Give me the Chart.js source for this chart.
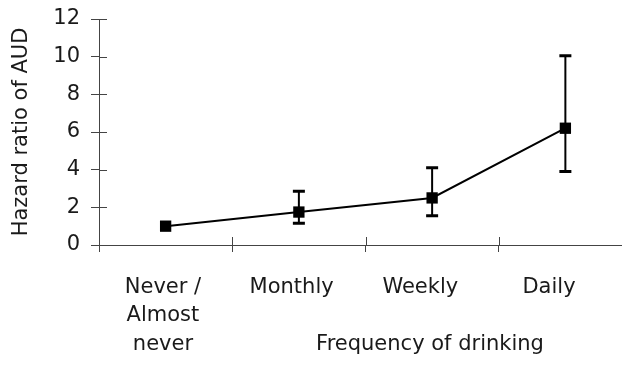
<!DOCTYPE html>
<html>
<head>
<meta charset="utf-8">
<script src="https://cdn.jsdelivr.net/npm/chart.js@4"></script>
<style>
html,body{margin:0;padding:0;background:#fff;overflow:hidden;}
#wrap{position:relative;width:622px;height:373px;overflow:hidden;}
#c{position:absolute;left:0;top:0;}
</style>
</head>
<body>
<div id="wrap"><canvas id="c" width="640" height="373"></canvas></div>
<script>
// Data
const categories = ["Never / Almost never", "Monthly", "Weekly", "Daily"];
const categoryLabelLines = [["Never /", "Almost", "never"], ["Monthly"], ["Weekly"], ["Daily"]];
const hazardRatio = [1.0, 1.75, 2.5, 6.2];
const ciLower = [null, 1.15, 1.55, 3.9];
const ciUpper = [null, 2.85, 4.1, 10.05];
const yTicks = [0, 2, 4, 6, 8, 10, 12];
const yTitle = "Hazard ratio of AUD";
const xTitle = "Frequency of drinking";

const FONT = "DejaVu Sans";
const FS = 21;
const TXT = "#1a1a1a";
const AXIS = "#444";

const crossTicks = {
  id: 'crossTicks',
  afterDraw(chart) {
    const ctx = chart.ctx;
    const x = chart.scales.x, y = chart.scales.y;
    ctx.save();
    ctx.strokeStyle = AXIS;
    ctx.lineWidth = 1;
    ctx.beginPath();
    y.ticks.forEach((t, i) => {
      const py = Math.round(y.getPixelForTick(i)) + 0.5;
      ctx.moveTo(y.right, py);
      ctx.lineTo(y.right + 8, py);
    });
    for (let i = 0; i <= categories.length; i++) {
      const px = Math.round(x.left + (x.right - x.left) * i / categories.length) + 0.5;
      ctx.moveTo(px, x.top);
      ctx.lineTo(px, x.top - 8);
    }
    ctx.stroke();
    ctx.restore();
  }
};

const errorBars = {
  id: 'errorBars',
  beforeDatasetsDraw(chart) {
    const ctx = chart.ctx;
    const x = chart.scales.x, y = chart.scales.y;
    ctx.save();
    ctx.strokeStyle = '#000';
    for (let i = 0; i < categories.length; i++) {
      if (ciLower[i] == null) continue;
      const px = x.getPixelForValue(i);
      const pl = y.getPixelForValue(ciLower[i]);
      const pu = y.getPixelForValue(ciUpper[i]);
      ctx.lineWidth = 2;
      ctx.beginPath();
      ctx.moveTo(px, pl); ctx.lineTo(px, pu);
      ctx.stroke();
      ctx.lineWidth = 3;
      ctx.beginPath();
      ctx.moveTo(px - 6, pl); ctx.lineTo(px + 6, pl);
      ctx.moveTo(px - 6, pu); ctx.lineTo(px + 6, pu);
      ctx.stroke();
    }
    ctx.restore();
  }
};

const xTitlePlugin = {
  id: 'xTitlePlugin',
  afterDraw(chart) {
    const ctx = chart.ctx;
    ctx.save();
    ctx.font = FS + "px '" + FONT + "'";
    ctx.fillStyle = TXT;
    ctx.textAlign = 'center';
    ctx.textBaseline = 'middle';
    ctx.fillText(xTitle, 430, 345);
    ctx.restore();
  }
};

new Chart(document.getElementById('c'), {
  type: 'line',
  data: {
    labels: categories,
    datasets: [{
      data: hazardRatio,
      borderColor: '#000',
      borderWidth: 2,
      backgroundColor: '#000',
      pointStyle: 'rect',
      pointRadius: 8,
      pointHoverRadius: 8,
      pointBackgroundColor: '#000',
      pointBorderWidth: 0,
      tension: 0
    }]
  },
  options: {
    responsive: false,
    animation: false,
    events: [],
    layout: { padding: { top: 19, right: 8, bottom: 0, left: 0 } },
    plugins: { legend: { display: false }, tooltip: { enabled: false } },
    scales: {
      x: {
        type: 'category',
        offset: true,
        position: 'bottom',
        afterFit: (axis) => { axis.height = 7; axis.paddingLeft = 0; axis.paddingRight = 0; },
        grid: { display: true, drawOnChartArea: false, offset: true, tickLength: 7, color: AXIS, tickColor: AXIS },
        border: { display: true, color: AXIS, width: 1 },
        ticks: { display: false }
      },
      x2: {
        type: 'linear',
        position: 'bottom',
        min: -0.497,
        max: 3.645,
        afterFit: (axis) => { axis.height = 121; axis.paddingLeft = 0; axis.paddingRight = 0; },
        grid: { display: false, drawTicks: false },
        border: { display: false },
        afterBuildTicks: (axis) => { axis.ticks = categories.map((c, i) => ({ value: i })); },
        ticks: {
          autoSkip: false,
          maxRotation: 0,
          padding: 21,
          color: TXT,
          font: { family: FONT, size: FS, lineHeight: 1.36 },
          callback: (v) => categoryLabelLines[v]
        }
      },
      y: {
        min: 0,
        max: 12,
        afterBuildTicks: (axis) => { axis.ticks = yTicks.map(v => ({ value: v })); },
        afterFit: (axis) => { axis.width = 99; axis.paddingTop = 0; axis.paddingBottom = 0; },
        grid: { display: true, drawOnChartArea: false, tickLength: 8, color: AXIS, tickColor: AXIS },
        border: { display: true, color: AXIS, width: 1 },
        ticks: { padding: 11, color: TXT, font: { family: FONT, size: FS } },
        title: { display: true, text: yTitle, color: TXT, font: { family: FONT, size: FS }, padding: { top: 9, bottom: 0 } }
      }
    }
  },
  plugins: [crossTicks, errorBars, xTitlePlugin]
});
</script>
</body>
</html>
